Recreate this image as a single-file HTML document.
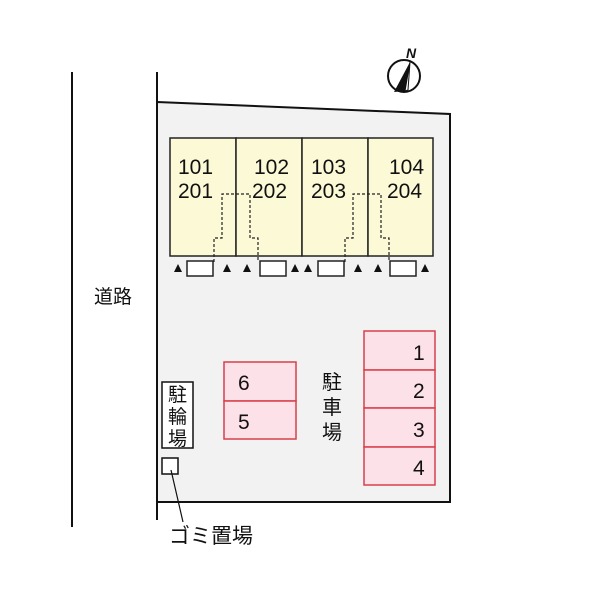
<!DOCTYPE html><html><head><style>body{margin:0;background:#fff}svg text{font-family:"Liberation Sans","Noto Sans CJK JP",sans-serif;fill:#111}</style></head><body>
<svg width="600" height="600" viewBox="0 0 600 600">
<line x1="72" y1="72" x2="72" y2="527" stroke="#111" stroke-width="2"/>
<line x1="157" y1="72" x2="157" y2="520" stroke="#111" stroke-width="2"/>
<polygon points="157,102 450,114 450,502 157,502" fill="#f2f2f2" stroke="#111" stroke-width="2"/>
<text x="94" y="303" font-size="19">道路</text>
<g fill="#fcfad6" stroke="#222" stroke-width="1.5">
<rect x="170" y="138" width="66" height="118"/><rect x="236" y="138" width="66" height="118"/><rect x="302" y="138" width="66" height="118"/><rect x="368" y="138" width="65" height="118"/></g>
<g font-size="21"><text x="178" y="174">101</text><text x="178" y="198">201</text>
<text x="254" y="174">102</text><text x="252" y="198">202</text>
<text x="311" y="174">103</text><text x="311" y="198">203</text>
<text x="389" y="174">104</text><text x="387" y="198">204</text></g>
<g fill="none" stroke="#222" stroke-width="1.2" stroke-dasharray="3,2">
<path d="M214,262 V238 H222 V194 H250 V238 H258 V262"/>
<path d="M345,262 V238 H353 V194 H381 V238 H389 V262"/></g>
<g fill="#fff" stroke="#222" stroke-width="1.5">
<rect x="187" y="261" width="26" height="15"/><rect x="260" y="261" width="26" height="15"/><rect x="318" y="261" width="26" height="15"/><rect x="390" y="261" width="26" height="15"/></g>
<g fill="#111"><path d="M174,272 l4,-8 l4,8z"/><path d="M223,272 l4,-8 l4,8z"/><path d="M243,272 l4,-8 l4,8z"/><path d="M291,272 l4,-8 l4,8z"/><path d="M304,272 l4,-8 l4,8z"/><path d="M354,272 l4,-8 l4,8z"/><path d="M374,272 l4,-8 l4,8z"/><path d="M421,272 l4,-8 l4,8z"/></g>
<g fill="#fde1e8" stroke="#d8404a" stroke-width="1.5">
<rect x="364" y="331" width="71" height="39"/><rect x="364" y="370" width="71" height="38"/><rect x="364" y="408" width="71" height="39"/><rect x="364" y="447" width="71" height="38"/>
<rect x="224" y="362" width="72" height="39"/><rect x="224" y="401" width="72" height="38"/></g>
<g font-size="21"><text x="413" y="360">1</text><text x="413" y="398">2</text><text x="413" y="437">3</text><text x="413" y="475">4</text>
<text x="238" y="390">6</text><text x="238" y="429">5</text></g>
<g font-size="20"><text x="322" y="389">駐</text><text x="322" y="414">車</text><text x="322" y="439">場</text></g>
<rect x="162" y="382" width="31" height="66" fill="#fff" stroke="#111" stroke-width="1.5"/>
<g font-size="19"><text x="168" y="401">駐</text><text x="168" y="423">輪</text><text x="168" y="445">場</text></g>
<rect x="162" y="458" width="16" height="16" fill="#fff" stroke="#111" stroke-width="1.5"/>
<line x1="171" y1="470" x2="183" y2="522" stroke="#111" stroke-width="1.2"/>
<text x="169" y="543" font-size="21">ゴミ置場</text>
<circle cx="404" cy="76" r="16" fill="#fff" stroke="#111" stroke-width="2"/>
<path d="M410,62 L394,92 L405,91z" fill="#111"/>
<path d="M410,62 L405,91 L408,90z" fill="#fff" stroke="#111" stroke-width="1"/>
<text x="406" y="58" font-size="14" font-style="italic" font-weight="bold">N</text>
</svg></body></html>
